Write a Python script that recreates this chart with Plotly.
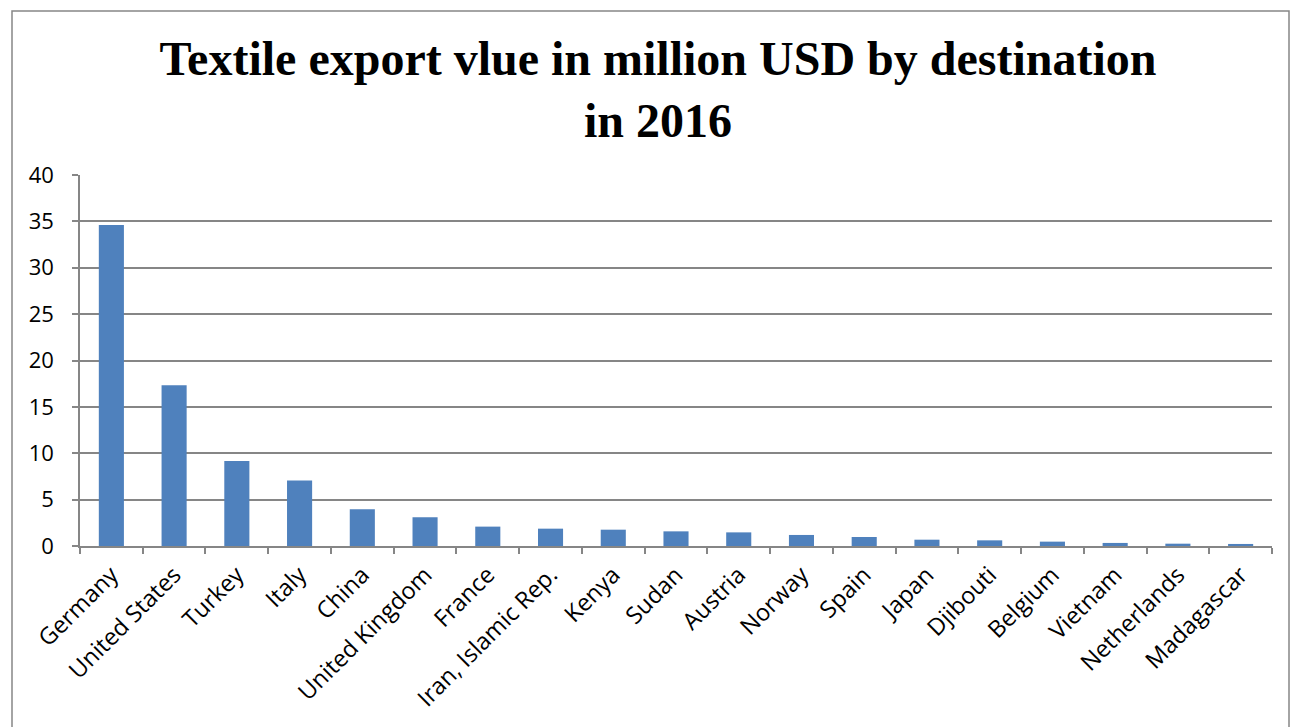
import plotly.graph_objects as go

countries = ["Germany", "United States", "Turkey", "Italy", "China", "United Kingdom",
             "France", "Iran, Islamic Rep.", "Kenya", "Sudan", "Austria", "Norway",
             "Spain", "Japan", "Djibouti", "Belgium", "Vietnam", "Netherlands", "Madagascar"]
values = [34.6, 17.33, 9.17, 7.05, 3.96, 3.1, 2.09, 1.87, 1.76, 1.58, 1.47, 1.19,
          0.97, 0.68, 0.61, 0.47, 0.33, 0.25, 0.22]
y_ticks = [0, 5, 10, 15, 20, 25, 30, 35, 40]

W, H = 1291, 727
L, R, T, B = 80, 19, 175, 181
pw, ph = W - L - R, H - T - B

def px(x):
    return (x - L) / pw

def py(y):
    return (H - B - y) / ph

fig = go.Figure(go.Bar(x=countries, y=values, marker_color="#4F81BD",
                       marker_line_width=0))

fig.update_layout(
    width=W, height=H,
    margin=dict(l=L, r=R, t=T, b=B),
    paper_bgcolor="white", plot_bgcolor="white",
    bargap=0.6,
    showlegend=False,
    title=dict(text="<b>Textile export vlue in million USD by destination<br>in 2016</b>",
               x=658 / W, xref="container", xanchor="center",
               y=1 - 75 / H, yanchor="middle",
               font=dict(family="Liberation Serif", size=48, color="black")),
    font=dict(family="Open Sans", size=22, color="black"),
    xaxis=dict(tickangle=-45, showgrid=False, showline=True, linecolor="#868686",
               linewidth=1.5, ticks="outside", tickson="boundaries", ticklen=6,
               tickcolor="#868686", tickwidth=1.5, ticklabelstandoff=4,
               tickfont=dict(family="Open Sans", size=23.5)),
    yaxis=dict(range=[0, 40], tickvals=y_ticks, showgrid=True, gridcolor="#868686",
               gridwidth=1.5, showline=True, linecolor="#868686", linewidth=1.5,
               ticks="outside", ticklen=6, tickcolor="#868686", tickwidth=1.5,
               ticklabelstandoff=14,
               zeroline=False, tickfont=dict(family="Open Sans", size=22)),
    shapes=[dict(type="rect", xref="paper", yref="paper",
                 x0=px(12), x1=px(1289), y0=py(740), y1=py(11),
                 line=dict(color="#868686", width=1.5), layer="below")],
)

fig.write_html("out.html")
